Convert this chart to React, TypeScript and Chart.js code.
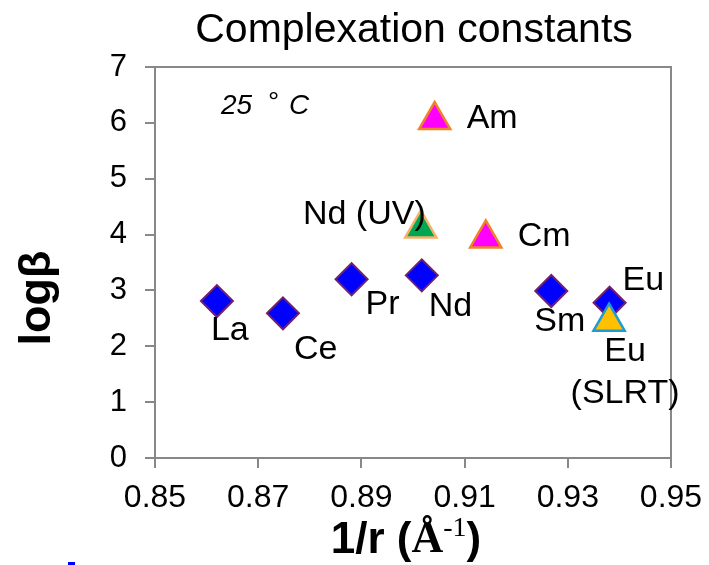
import React, { useEffect, useRef } from "react";
import { Chart, registerables } from "chart.js";

Chart.register(...registerables);

// ---- data ----
const lnNames = ["La", "Ce", "Pr", "Nd", "Sm", "Eu"];
const lnX = [0.862, 0.8748, 0.8881, 0.9017, 0.9268, 0.9381];
const lnY = [2.81, 2.59, 3.2, 3.27, 2.99, 2.78];

const anNames = ["Am", "Cm"];
const anX = [0.9042, 0.9141];
const anY = [6.05, 3.93];

const ndUvNames = ["Nd (UV)"];
const ndUvX = [0.9015];
const ndUvY = [4.11];

const euSlrtNames = ["Eu\n(SLRT)"];
const euSlrtX = [0.938];
const euSlrtY = [2.44];

const xTicks = [0.85, 0.87, 0.89, 0.91, 0.93, 0.95];
const yTicks = [0, 1, 2, 3, 4, 5, 6, 7];

const titleText = "Complexation constants";
const yTitleText = "logβ";
const tempParts = ["25", "°", "C"];

// ---- styles / label placement ----
const SANS = "'Liberation Sans', Arial, sans-serif";
const SERIF = "'Liberation Serif', 'Times New Roman', serif";
const axisGray = "#888888";

const labelPlacement: Record<string, { dx: number; dy: number; align: CanvasTextAlign; lineGap?: number }> = {
  La: { dx: -6, dy: 30, align: "left" },
  Ce: { dx: 11, dy: 36, align: "left" },
  Pr: { dx: 14, dy: 25, align: "left" },
  Nd: { dx: 7, dy: 31, align: "left" },
  Sm: { dx: -17, dy: 31, align: "left" },
  Eu: { dx: 13, dy: -22, align: "left" },
  Am: { dx: 32, dy: -1, align: "left" },
  Cm: { dx: 32, dy: -2, align: "left" },
  "Nd (UV)": { dx: 5, dy: -14, align: "right" },
  "Eu\n(SLRT)": { dx: 16, dy: 30, align: "center", lineGap: 42 },
};

const annotPlugin = {
  id: "annot",
  afterDatasetsDraw(chart: any) {
    const ctx: CanvasRenderingContext2D = chart.ctx;
    const { left, right, top, bottom } = chart.chartArea;
    ctx.save();
    // frame (top + right)
    ctx.strokeStyle = axisGray;
    ctx.lineWidth = 2;
    ctx.beginPath();
    ctx.moveTo(left, top);
    ctx.lineTo(right, top);
    ctx.lineTo(right, bottom);
    ctx.stroke();

    // point labels
    ctx.fillStyle = "#000";
    ctx.font = `34px ${SANS}`;
    ctx.textBaseline = "middle";
    chart.data.datasets.forEach((ds: any, di: number) => {
      const meta = chart.getDatasetMeta(di);
      meta.data.forEach((pt: any, i: number) => {
        const name: string = ds.names[i];
        const p = labelPlacement[name];
        if (!p) return;
        ctx.textAlign = p.align;
        name.split("\n").forEach((line, li) => {
          ctx.fillText(line, pt.x + p.dx, pt.y + p.dy + li * (p.lineGap || 0));
        });
      });
    });

    // chart title
    ctx.textAlign = "center";
    ctx.font = `41px ${SANS}`;
    ctx.fillText(titleText, (left + right) / 2 + 1, 31);

    // temperature note
    ctx.textAlign = "left";
    ctx.font = `italic 28px ${SANS}`;
    ctx.fillText(tempParts[0], left + 66, top + 39);
    ctx.fillText(tempParts[1], left + 112, top + 36);
    ctx.fillText(tempParts[2], left + 134, top + 39);

    // y title
    ctx.save();
    ctx.translate(38, 298);
    ctx.rotate(-Math.PI / 2);
    ctx.textAlign = "center";
    ctx.font = `bold 45px ${SANS}`;
    ctx.fillText(yTitleText, 0, 0);
    ctx.restore();

    // x title: 1/r (Å^-1)
    const segs = [
      { t: "1/r (", f: `bold 44px ${SANS}`, dy: 0 },
      { t: "Å", f: `bold 44px ${SERIF}`, dy: 0 },
      { t: "-1", f: `28px ${SERIF}`, dy: -12 },
      { t: ")", f: `bold 44px ${SANS}`, dy: 0 },
    ];
    let total = 0;
    segs.forEach((s) => {
      ctx.font = s.f;
      total += ctx.measureText(s.t).width;
    });
    let x = (left + right) / 2 - 7 - total / 2;
    ctx.textAlign = "left";
    segs.forEach((s) => {
      ctx.font = s.f;
      ctx.fillText(s.t, x, 541 + s.dy);
      x += ctx.measureText(s.t).width;
    });

    // small blue mark at bottom-left
    ctx.fillStyle = "#0000FF";
    ctx.fillRect(68, 562, 7, 3);
    ctx.restore();
  },
};

export default function App() {
  const ref = useRef<HTMLCanvasElement | null>(null);

  useEffect(() => {
    if (!ref.current) return;
    const toPts = (xs: number[], ys: number[]) => xs.map((x, i) => ({ x, y: ys[i] }));
    const chart = new Chart(ref.current, {
      type: "scatter",
      data: {
        datasets: [
          {
            label: "Eu (SLRT)",
            names: euSlrtNames,
            data: toPts(euSlrtX, euSlrtY),
            pointStyle: "triangle",
            pointRadius: 18,
            backgroundColor: "#FFC000",
            borderColor: "#1E9BD7",
            borderWidth: 2.5,
          } as any,
          {
            label: "Nd (UV)",
            names: ndUvNames,
            data: toPts(ndUvX, ndUvY),
            pointStyle: "triangle",
            pointRadius: 18,
            backgroundColor: "#00A651",
            borderColor: "#F6B26B",
            borderWidth: 2.5,
          } as any,
          {
            label: "Actinides",
            names: anNames,
            data: toPts(anX, anY),
            pointStyle: "triangle",
            pointRadius: 18,
            backgroundColor: "#FF00FF",
            borderColor: "#F08228",
            borderWidth: 2.5,
          } as any,
          {
            label: "Lanthanides",
            names: lnNames,
            data: toPts(lnX, lnY),
            pointStyle: "rectRot",
            pointRadius: 16,
            backgroundColor: "#0000FF",
            borderColor: "#702070",
            borderWidth: 2,
          } as any,
        ],
      },
      options: {
        animation: false,
        responsive: true,
        maintainAspectRatio: false,
        layout: { padding: { top: 67, left: 0, right: 38, bottom: 0 } },
        plugins: {
          legend: { display: false },
          tooltip: { enabled: false },
          title: { display: false },
        },
        scales: {
          x: {
            type: "linear",
            min: xTicks[0],
            max: xTicks[xTicks.length - 1],
            afterBuildTicks: (scale: any) => {
              scale.ticks = xTicks.map((v) => ({ value: v }));
            },
            afterFit: (scale: any) => {
              scale.height = 107;
              scale.paddingLeft = 0;
              scale.paddingRight = 0;
            },
            grid: {
              drawOnChartArea: false,
              drawTicks: true,
              tickLength: 10,
              color: axisGray,
              lineWidth: 2,
            },
            border: { display: true, color: axisGray, width: 2 },
            ticks: {
              autoSkip: false,
              maxRotation: 0,
              padding: 11,
              color: "#000",
              font: { family: SANS, size: 32 },
              callback: (v: any) => Number(v).toFixed(2),
            },
          },
          y: {
            type: "linear",
            min: yTicks[0],
            max: yTicks[yTicks.length - 1],
            afterBuildTicks: (scale: any) => {
              scale.ticks = yTicks.map((v) => ({ value: v }));
            },
            afterFit: (scale: any) => {
              scale.width = 155;
              scale.paddingTop = 0;
              scale.paddingBottom = 0;
            },
            grid: {
              drawOnChartArea: false,
              drawTicks: true,
              tickLength: 10,
              color: axisGray,
              lineWidth: 2,
            },
            border: { display: true, color: axisGray, width: 2 },
            ticks: {
              padding: 18,
              color: "#000",
              font: { family: SANS, size: 31 },
              callback: (v: any) => String(v),
            },
          },
        },
      },
      plugins: [annotPlugin],
    } as any);
    return () => chart.destroy();
  }, []);

  return (
    <div style={{ position: "fixed", left: 0, top: 0, width: 709, height: 565, background: "#fff" }}>
      <canvas ref={ref} />
    </div>
  );
}
